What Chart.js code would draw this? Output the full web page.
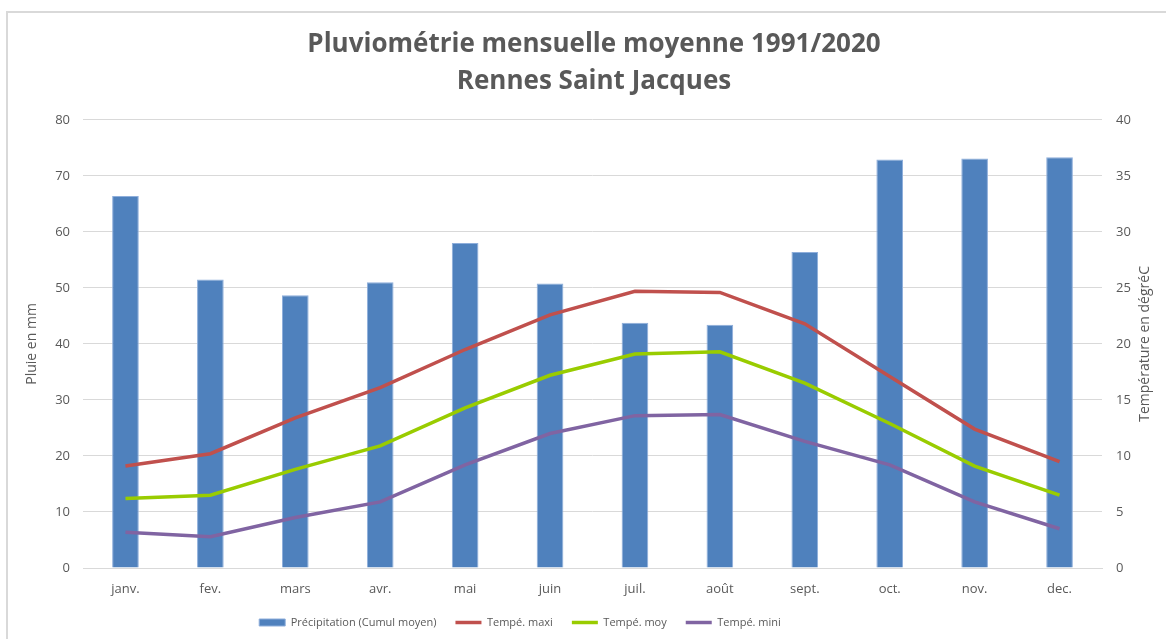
<!DOCTYPE html>
<html>
<head>
<meta charset="utf-8">
<script src="https://cdn.jsdelivr.net/npm/chart.js@4.4.0/dist/chart.umd.min.js"></script>
<style>
  html, body { margin: 0; padding: 0; background: #ffffff; }
  #wrap { position: relative; width: 1166px; height: 639px; overflow: hidden; }
  #frame { position: absolute; left: 6px; top: 11px; width: 1200px; height: 700px;
           border-left: 2px solid #D9D9D9; border-top: 2px solid #D9D9D9; }
  #c { position: absolute; left: 0; top: 0; }
</style>
</head>
<body>
<div id="wrap">
  <div id="frame"></div>
  <canvas id="c" width="1166" height="639"></canvas>
</div>
<script>
const titleLines = ["Pluviométrie mensuelle moyenne 1991/2020", "Rennes Saint Jacques"];
const months = ["janv.", "fev.", "mars", "avr.", "mai", "juin", "juil.", "août", "sept.", "oct.", "nov.", "dec."];
const precipitation = [66.4, 51.5, 48.7, 51.0, 58.0, 50.8, 43.8, 43.4, 56.4, 72.9, 73.1, 73.3];
const tempMaxi = [9.1, 10.2, 13.4, 16.1, 19.5, 22.6, 24.7, 24.6, 21.8, 17.1, 12.4, 9.5];
const tempMoy = [6.2, 6.5, 8.8, 10.9, 14.3, 17.2, 19.1, 19.3, 16.5, 12.9, 9.1, 6.5];
const tempMini = [3.2, 2.8, 4.5, 5.9, 9.2, 12.0, 13.6, 13.7, 11.3, 9.2, 5.9, 3.5];
const seriesNames = ["Précipitation (Cumul moyen)", "Tempé. maxi", "Tempé. moy", "Tempé. mini"];
const leftAxisTitle = "Pluie en mm";
const rightAxisTitle = "Température en dégréC";

const FONT = "'Open Sans', sans-serif";
const GREY = "#595959";

const layoutTweaks = {
  id: "layoutTweaks",
  beforeDraw(chart) {
    // The original centres its title over the framed area and its legend left of centre.
    if (chart.titleBlock) { chart.titleBlock.left += 11; chart.titleBlock.right += 11; }
    if (chart.legend) { chart.legend.left -= 63; chart.legend.right -= 63; }
  },
  afterDraw(chart) {
    const { ctx, chartArea } = chart;
    ctx.save();
    ctx.fillStyle = GREY;
    ctx.font = "14px " + FONT;
    ctx.textAlign = "center";
    ctx.textBaseline = "middle";
    ctx.translate(1145, (chartArea.top + chartArea.bottom) / 2);
    ctx.rotate(-Math.PI / 2);
    ctx.fillText(rightAxisTitle, 0, 0);
    ctx.restore();
  }
};

new Chart(document.getElementById("c"), {
  data: {
    labels: months,
    datasets: [
      { type: "bar", label: seriesNames[0], data: precipitation, yAxisID: "y",
        backgroundColor: "#4F81BD", borderColor: "#8EAEDB", borderWidth: 1,
        barPercentage: 0.314, categoryPercentage: 1, order: 1, pointStyle: "rect" },
      { type: "line", label: seriesNames[1], data: tempMaxi, yAxisID: "y1",
        borderColor: "#C0504D", backgroundColor: "#C0504D", borderWidth: 3.5,
        pointRadius: 0, tension: 0, order: 0, pointStyle: "line" },
      { type: "line", label: seriesNames[2], data: tempMoy, yAxisID: "y1",
        borderColor: "#99CC00", backgroundColor: "#99CC00", borderWidth: 3.5,
        pointRadius: 0, tension: 0, order: 0, pointStyle: "line" },
      { type: "line", label: seriesNames[3], data: tempMini, yAxisID: "y1",
        borderColor: "#8064A2", backgroundColor: "#8064A2", borderWidth: 3.5,
        pointRadius: 0, tension: 0, order: 0, pointStyle: "line" }
    ]
  },
  plugins: [layoutTweaks],
  options: {
    responsive: false,
    animation: false,
    devicePixelRatio: 1,
    layout: { padding: { left: 0, right: 0, top: 0, bottom: 1 } },
    plugins: {
      tooltip: { enabled: false },
      title: {
        display: true, text: titleLines, color: GREY,
        font: { family: FONT, size: 26, weight: "bold", lineHeight: 1.42 },
        padding: { top: 26, bottom: 20 }
      },
      legend: {
        position: "bottom",
        labels: {
          usePointStyle: true, pointStyleWidth: 26, boxHeight: 7,
          color: GREY, font: { family: FONT, size: 11 }, padding: 19,
          sort: (a, b) => a.datasetIndex - b.datasetIndex
        }
      }
    },
    scales: {
      x: {
        grid: { display: false, drawTicks: false },
        border: { color: "#D9D9D9", width: 1 },
        ticks: { color: GREY, font: { family: FONT, size: 13 }, padding: 13 },
        afterFit: (s) => { s.height = 30; }
      },
      y: {
        position: "left", min: 0, max: 80,
        ticks: { stepSize: 10, color: GREY, font: { family: FONT, size: 13 }, padding: 13 },
        grid: { color: "#D9D9D9", lineWidth: 1, drawTicks: false },
        border: { display: false },
        title: { display: true, text: leftAxisTitle, color: GREY, font: { family: FONT, size: 14 }, padding: { top: 24, bottom: 0 } },
        afterFit: (s) => { s.width = 83; }
      },
      y1: {
        position: "right", min: 0, max: 40,
        ticks: { stepSize: 5, color: GREY, font: { family: FONT, size: 13 }, padding: 14 },
        grid: { display: false, drawTicks: false },
        border: { display: false },
        afterFit: (s) => { s.width = 64; }
      }
    }
  }
});
</script>
</body>
</html>
